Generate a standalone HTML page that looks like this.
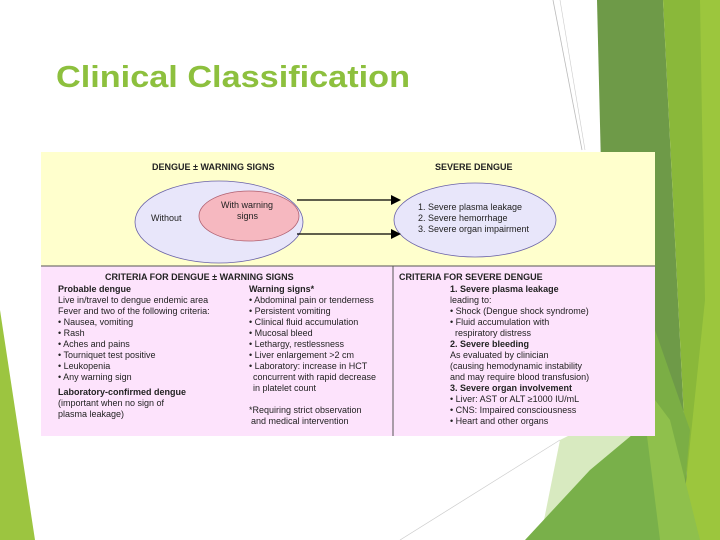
<!DOCTYPE html>
<html><head><meta charset="utf-8"><style>
html,body{margin:0;padding:0;background:#fff;}
svg{display:block;}
text{font-family:"Liberation Sans",sans-serif;fill:#222;}
.b{font-weight:bold;}
</style></head><body>
<svg width="720" height="540" viewBox="0 0 720 540" xmlns="http://www.w3.org/2000/svg">
<rect width="720" height="540" fill="#fff"/>
<!-- right decorations -->
<line x1="553" y1="0" x2="582" y2="150" stroke="#bbb" stroke-width="0.8"/>
<line x1="560" y1="0" x2="585" y2="150" stroke="#ccc" stroke-width="0.6"/>
<polygon points="597,0 663,0 690,540 610,540" fill="#6e9a48"/>
<polygon points="663,0 720,0 720,540 690,540" fill="#8ab83a"/>
<polygon points="700,0 720,0 720,540 680,540 705,300" fill="#9cc63d"/>
<polygon points="655,330 690,430 680,540 640,540" fill="#7bae45"/>
<polygon points="560,440 620,410 660,470 600,540 540,540" fill="#d8eac0"/>
<polygon points="590,470 650,420 680,540 525,540" fill="#79b04a"/>
<polygon points="640,380 670,420 700,540 660,540" fill="#8fc04c"/>
<line x1="400" y1="540" x2="560" y2="440" stroke="#ccc" stroke-width="0.7"/>
<!-- left decoration -->
<polygon points="0,310 35,540 0,540" fill="#9cc540"/>
<!-- title -->
<text x="56" y="87" font-size="31" class="b" style="fill:#8dc03e" textLength="354" lengthAdjust="spacingAndGlyphs">Clinical Classification</text>
<!-- table -->
<rect x="41" y="152" width="614" height="114" fill="#ffffcd"/>
<rect x="41" y="266" width="614" height="170" fill="#fde3fc"/>
<line x1="41" y1="266" x2="655" y2="266" stroke="#555" stroke-width="1"/>
<line x1="393" y1="266" x2="393" y2="436" stroke="#555" stroke-width="1"/>
<text x="152" y="170" font-size="9" class="b">DENGUE ± WARNING SIGNS</text>
<text x="435" y="170" font-size="9" class="b">SEVERE DENGUE</text>
<ellipse cx="219" cy="222" rx="84" ry="41" fill="#e8e6fa" stroke="#6a62a8" stroke-width="0.8"/>
<ellipse cx="249" cy="216" rx="50" ry="25" fill="#f6b8c0" stroke="#b06070" stroke-width="0.8"/>
<ellipse cx="475" cy="220" rx="81" ry="37" fill="#e8e6fa" stroke="#6a62a8" stroke-width="0.8"/>
<text x="151" y="221" font-size="9">Without</text>
<text x="221" y="208" font-size="9">With warning</text>
<text x="237" y="219" font-size="9">signs</text>
<text x="418" y="210" font-size="9">1. Severe plasma leakage</text>
<text x="418" y="221" font-size="9">2. Severe hemorrhage</text>
<text x="418" y="232" font-size="9">3. Severe organ impairment</text>
<line x1="297" y1="200" x2="393" y2="200" stroke="#000" stroke-width="1.3"/>
<polygon points="401,200 391,195 391,205" fill="#000"/>
<line x1="297" y1="234" x2="393" y2="234" stroke="#000" stroke-width="1.3"/>
<polygon points="401,234 391,229 391,239" fill="#000"/>
<g font-size="9">
<text x="105" y="280" class="b">CRITERIA FOR DENGUE ± WARNING SIGNS</text>
<text x="58" y="292" class="b">Probable dengue</text>
<text x="58" y="303">Live in/travel to dengue endemic area</text>
<text x="58" y="314">Fever and two of the following criteria:</text>
<text x="58" y="325">• Nausea, vomiting</text>
<text x="58" y="336">• Rash</text>
<text x="58" y="347">• Aches and pains</text>
<text x="58" y="358">• Tourniquet test positive</text>
<text x="58" y="369">•  Leukopenia</text>
<text x="58" y="380">•  Any warning sign</text>
<text x="58" y="395" class="b">Laboratory-confirmed dengue</text>
<text x="58" y="406">(important when no sign of</text>
<text x="58" y="417">plasma leakage)</text>
<text x="249" y="292" class="b">Warning signs*</text>
<text x="249" y="303">• Abdominal pain or tenderness</text>
<text x="249" y="314">• Persistent vomiting</text>
<text x="249" y="325">• Clinical fluid accumulation</text>
<text x="249" y="336">• Mucosal bleed</text>
<text x="249" y="347">• Lethargy, restlessness</text>
<text x="249" y="358">• Liver enlargement &gt;2 cm</text>
<text x="249" y="369">• Laboratory: increase in HCT</text>
<text x="253" y="380">concurrent with rapid decrease</text>
<text x="253" y="391">in platelet count</text>
<text x="249" y="413">*Requiring strict observation</text>
<text x="251" y="424">and medical intervention</text>
<text x="399" y="280" class="b">CRITERIA FOR SEVERE DENGUE</text>
<text x="450" y="292" class="b">1. Severe plasma leakage</text>
<text x="450" y="303">leading to:</text>
<text x="450" y="314">• Shock (Dengue shock syndrome)</text>
<text x="450" y="325">• Fluid accumulation with</text>
<text x="455" y="336">respiratory distress</text>
<text x="450" y="347" class="b">2. Severe bleeding</text>
<text x="450" y="358">As evaluated by clinician</text>
<text x="450" y="369">(causing hemodynamic instability</text>
<text x="450" y="380">and may require blood transfusion)</text>
<text x="450" y="391" class="b">3. Severe organ involvement</text>
<text x="450" y="402">• Liver: AST or ALT ≥1000 IU/mL</text>
<text x="450" y="413">• CNS: Impaired consciousness</text>
<text x="450" y="424">• Heart and other organs</text>
</g>
</svg>
</body></html>
